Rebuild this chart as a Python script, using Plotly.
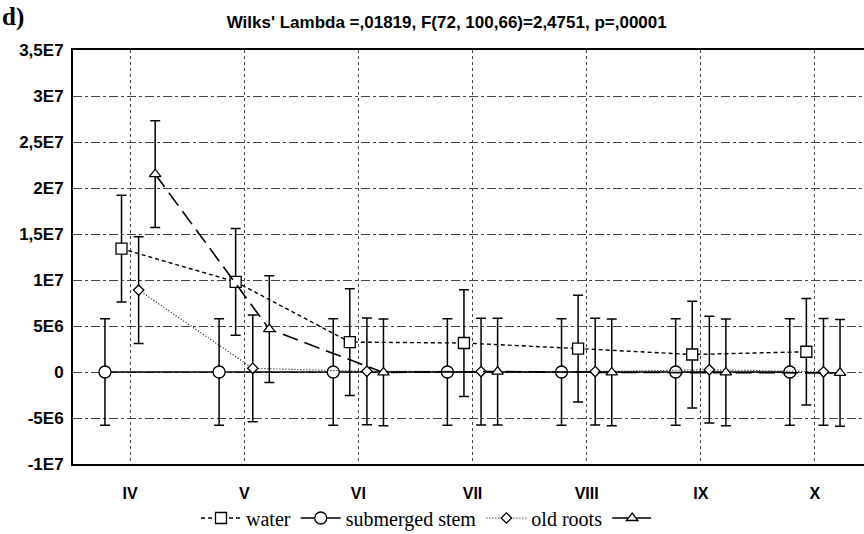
import plotly.graph_objects as go

months = ["IV", "V", "VI", "VII", "VIII", "IX", "X"]
y_tick_vals = [-1e7, -5e6, 0, 5e6, 1e7, 1.5e7, 2e7, 2.5e7, 3e7, 3.5e7]
y_tick_text = ["-1E7", "-5E6", "0", "5E6", "1E7", "1,5E7", "2E7", "2,5E7", "3E7", "3,5E7"]

water = [13.4e6, 9.8e6, 3.25e6, 3.15e6, 2.55e6, 1.9e6, 2.2e6]
water_err = [5.8e6] * 7
submerged_stem = [0, 0, 0, 0, 0, 0, 0]
submerged_stem_err = [5.8e6] * 7
old_roots = [8.9e6, 0.4e6, 0.07e6, 0.05e6, 0.05e6, 0.25e6, 0.02e6]
old_roots_err = [5.8e6] * 7
fourth = [21.5e6, 4.65e6, -0.05e6, 0.05e6, -0.05e6, -0.05e6, -0.1e6]
fourth_err = [5.8e6] * 7

title_text = "Wilks' Lambda =,01819, F(72, 100,66)=2,4751, p=,00001"

series = [
    # name, values, errors, offset, symbol, size, dash, width, rank
    ("submerged stem", submerged_stem, submerged_stem_err, -0.22, "circle", 12, "solid", 1.6, 2),
    ("water", water, water_err, -0.075, "square", 11, "4px,3px", 1.4, 1),
    ("old roots", old_roots, old_roots_err, 0.075, "diamond", 8, "1px,2px", 1.1, 3),
    (" ", fourth, fourth_err, 0.22, "triangle-up", 10, "16px,7px", 1.6, 4),
]

fig = go.Figure()
for name, vals, errs, off, sym, size, dash, width, rank in series:
    xs = [i + off for i in range(len(months))]
    fig.add_trace(go.Scatter(
        x=xs, y=vals, name=name, mode="lines+markers",
        line=dict(color="black", width=width, dash=dash),
        marker=dict(symbol=sym, size=size, color="white",
                    line=dict(color="black", width=1.3)),
        error_y=dict(type="data", array=errs, visible=True,
                     color="black", thickness=1.5, width=5),
        legendrank=rank,
        cliponaxis=False,
    ))

fig.update_layout(
    width=864, height=534,
    margin=dict(l=73, r=0, t=50, b=70, autoexpand=False),
    paper_bgcolor="white", plot_bgcolor="white",
    font=dict(family="Liberation Sans, Arial, sans-serif", color="black"),
    title=dict(text="<b>" + title_text + "</b>", x=0.517, xanchor="center",
               y=1 - 22 / 534, yanchor="middle",
               font=dict(size=17, family="Liberation Sans, Arial, sans-serif")),
    showlegend=True,
    legend=dict(orientation="h", xref="container", yref="container",
                x=0.5, xanchor="center", y=16 / 534, yanchor="middle",
                font=dict(family="Liberation Serif, Times New Roman, serif", size=20),
                itemwidth=40, tracegroupgap=0, bgcolor="rgba(0,0,0,0)"),
    annotations=[dict(text="<b>d)</b>", xref="paper", yref="paper",
                      x=-73 / 791, y=1 + 33 / 414, xanchor="left", yanchor="middle",
                      showarrow=False,
                      font=dict(family="Liberation Serif, Times New Roman, serif", size=25))],
)

fig.update_xaxes(
    range=[-0.5, 6.43], tickmode="array", tickvals=list(range(len(months))),
    ticktext=["<b>" + m + "</b>" for m in months],
    showgrid=True, gridcolor="#444", griddash="dot", gridwidth=1,
    showline=True, linecolor="black", linewidth=2, mirror=True,
    ticks="", tickfont=dict(size=16), ticklabelstandoff=14, zeroline=False,
    automargin=False,
)
fig.update_yaxes(
    range=[-1e7, 3.5e7], tickmode="array", tickvals=y_tick_vals,
    ticktext=["<b>" + t + "</b>" for t in y_tick_text],
    showgrid=True, gridcolor="#444", griddash="dashdot", gridwidth=1,
    showline=True, linecolor="black", linewidth=2, mirror=False,
    ticks="", tickfont=dict(size=17), ticklabelstandoff=4, zeroline=False,
    automargin=False,
)

fig.write_html("out.html")
